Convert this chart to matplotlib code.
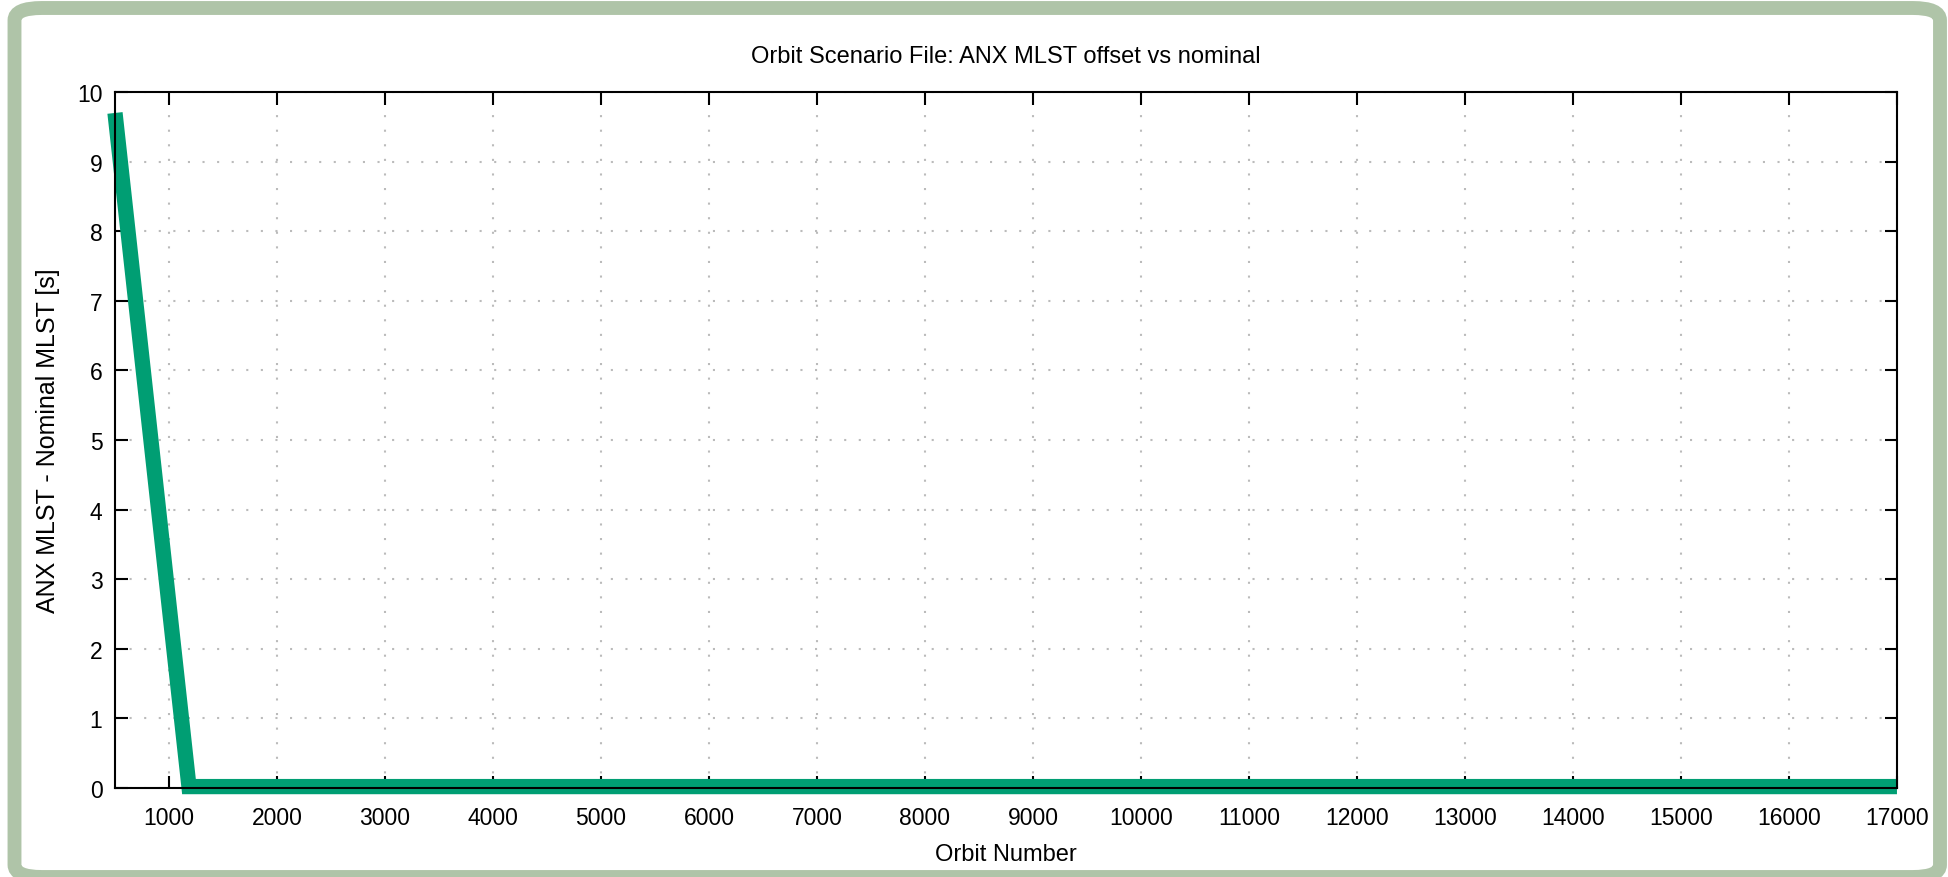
import matplotlib.pyplot as plt
from matplotlib.patches import FancyBboxPatch

plt.rcParams['font.family'] = ['Liberation Sans', 'DejaVu Sans']

# Data
orbit = [500, 1185, 17000]
mlst_offset = [9.7, 0.02, 0.02]

x_ticks = list(range(1000, 17001, 1000))
y_ticks = list(range(0, 11))

# Create Figure and Axes
figure = plt.figure(figsize=(19.49, 8.78), dpi=100, facecolor='white')
axes0 = figure.add_axes([0.059, 0.1014, 0.9143, 0.7926])

# rounded green frame around the whole picture
frame = FancyBboxPatch((14.5 / 1949, 0.0), 1925.5 / 1949, 869 / 878,
                       boxstyle='round,pad=0,rounding_size=0.014',
                       transform=figure.transFigure, facecolor='none',
                       edgecolor='#afc4a8', linewidth=10, zorder=-1)
figure.patches.append(frame)

axes0.plot(orbit, mlst_offset, color='#009e73', linewidth=11,
           solid_capstyle='butt', solid_joinstyle='miter', clip_on=False, zorder=2)

# x-axis settings
axes0.set_xlim(500, 17000)
axes0.set_xticks(x_ticks)
axes0.set_xlabel('Orbit Number', fontsize=17, labelpad=10)

# y-axis settings
axes0.set_ylim(0, 10)
axes0.set_yticks(y_ticks)
axes0.set_ylabel('ANX MLST - Nominal MLST [s]', fontsize=18, labelpad=12)

axes0.set_title('Orbit Scenario File: ANX MLST offset vs nominal', fontsize=17, pad=22)

axes0.tick_params(direction='in', length=9, width=1.5, top=True, right=True,
                  labelsize=16.5)
axes0.tick_params(axis='x', pad=13)
axes0.tick_params(axis='y', pad=9)
for spine in axes0.spines.values():
    spine.set_linewidth(1.5)
axes0.grid(True, color='#bbbbbb', linestyle=(0, (1, 6)), linewidth=1.5)
axes0.set_axisbelow(True)

figure.savefig('out.png', dpi=100)
